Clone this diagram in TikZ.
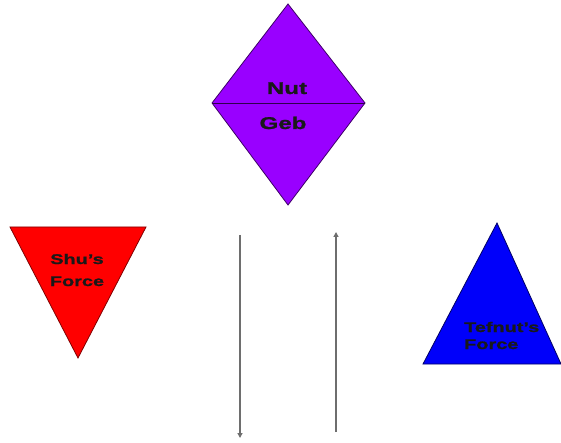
\documentclass[tikz,border=0pt]{standalone}
\usepackage{fontspec}
\setmainfont{Liberation Sans}[FakeStretch=1.42, BoldFeatures={FakeBold=1.2}]
\usetikzlibrary{arrows.meta}
\definecolor{nutpurple}{RGB}{153,0,255}
\definecolor{shured}{RGB}{255,0,0}
\definecolor{tefblue}{RGB}{0,0,250}
\definecolor{arrowgray}{RGB}{110,110,110}
\tikzset{
  shapeedge/.style={line width=0.8pt, line join=miter},
  bigtext/.style={font=\fontsize{17}{20}\selectfont\bfseries, text=black!90, inner sep=0pt, anchor=base},
  smalltext/.style={font=\fontsize{14}{17}\selectfont\bfseries, text=black!90, inner sep=0pt, anchor=base},
  flow/.style={draw=arrowgray, line width=1.5pt, -{Triangle[length=5pt,width=5pt]}}
}
\begin{document}
\begin{tikzpicture}[x=1pt,y=-1pt]
\useasboundingbox (0,0) rectangle (561,443);
% diamond (Nut / Geb)
\coordinate (dtop) at (288,4);
\coordinate (dleft) at (212,103);
\coordinate (dright) at (365,103);
\coordinate (dbot) at (288,205);
\filldraw[shapeedge, fill=nutpurple, draw=nutpurple!40!black] (dtop) -- (dright) -- (dbot) -- (dleft) -- cycle;
\draw[shapeedge, draw=nutpurple!30!black] (dleft) -- (dright);
\node[bigtext] (nut) at (287,94) {Nut};
\node[bigtext] (geb) at (283,129) {Geb};
% Shu's force
\coordinate (stl) at (10,227);
\coordinate (str) at (146,227);
\coordinate (sbot) at (78,358);
\filldraw[shapeedge, fill=shured, draw=shured!50!black] (stl) -- (str) -- (sbot) -- cycle;
\node[smalltext] (shu1) at (77,264) {Shu's};
\node[smalltext] (shu2) at (77,286) {Force};
% Tefnut's force
\coordinate (tapex) at (497,223);
\coordinate (tbl) at (423,364);
\coordinate (tbr) at (561,364);
\filldraw[shapeedge, fill=tefblue, draw=tefblue!40!black] (tapex) -- (tbr) -- (tbl) -- cycle;
\node[smalltext, anchor=base west] (tef1) at (464,332) {Tefnut's};
\node[smalltext, anchor=base west] (tef2) at (464,349) {Force};
% arrows
\coordinate (a1s) at (240,235);
\coordinate (a1e) at (240,438);
\coordinate (a2s) at (336,432);
\coordinate (a2e) at (336,232);
\draw[flow] (a1s) -- (a1e);
\draw[flow] (a2s) -- (a2e);
\end{tikzpicture}
\end{document}
